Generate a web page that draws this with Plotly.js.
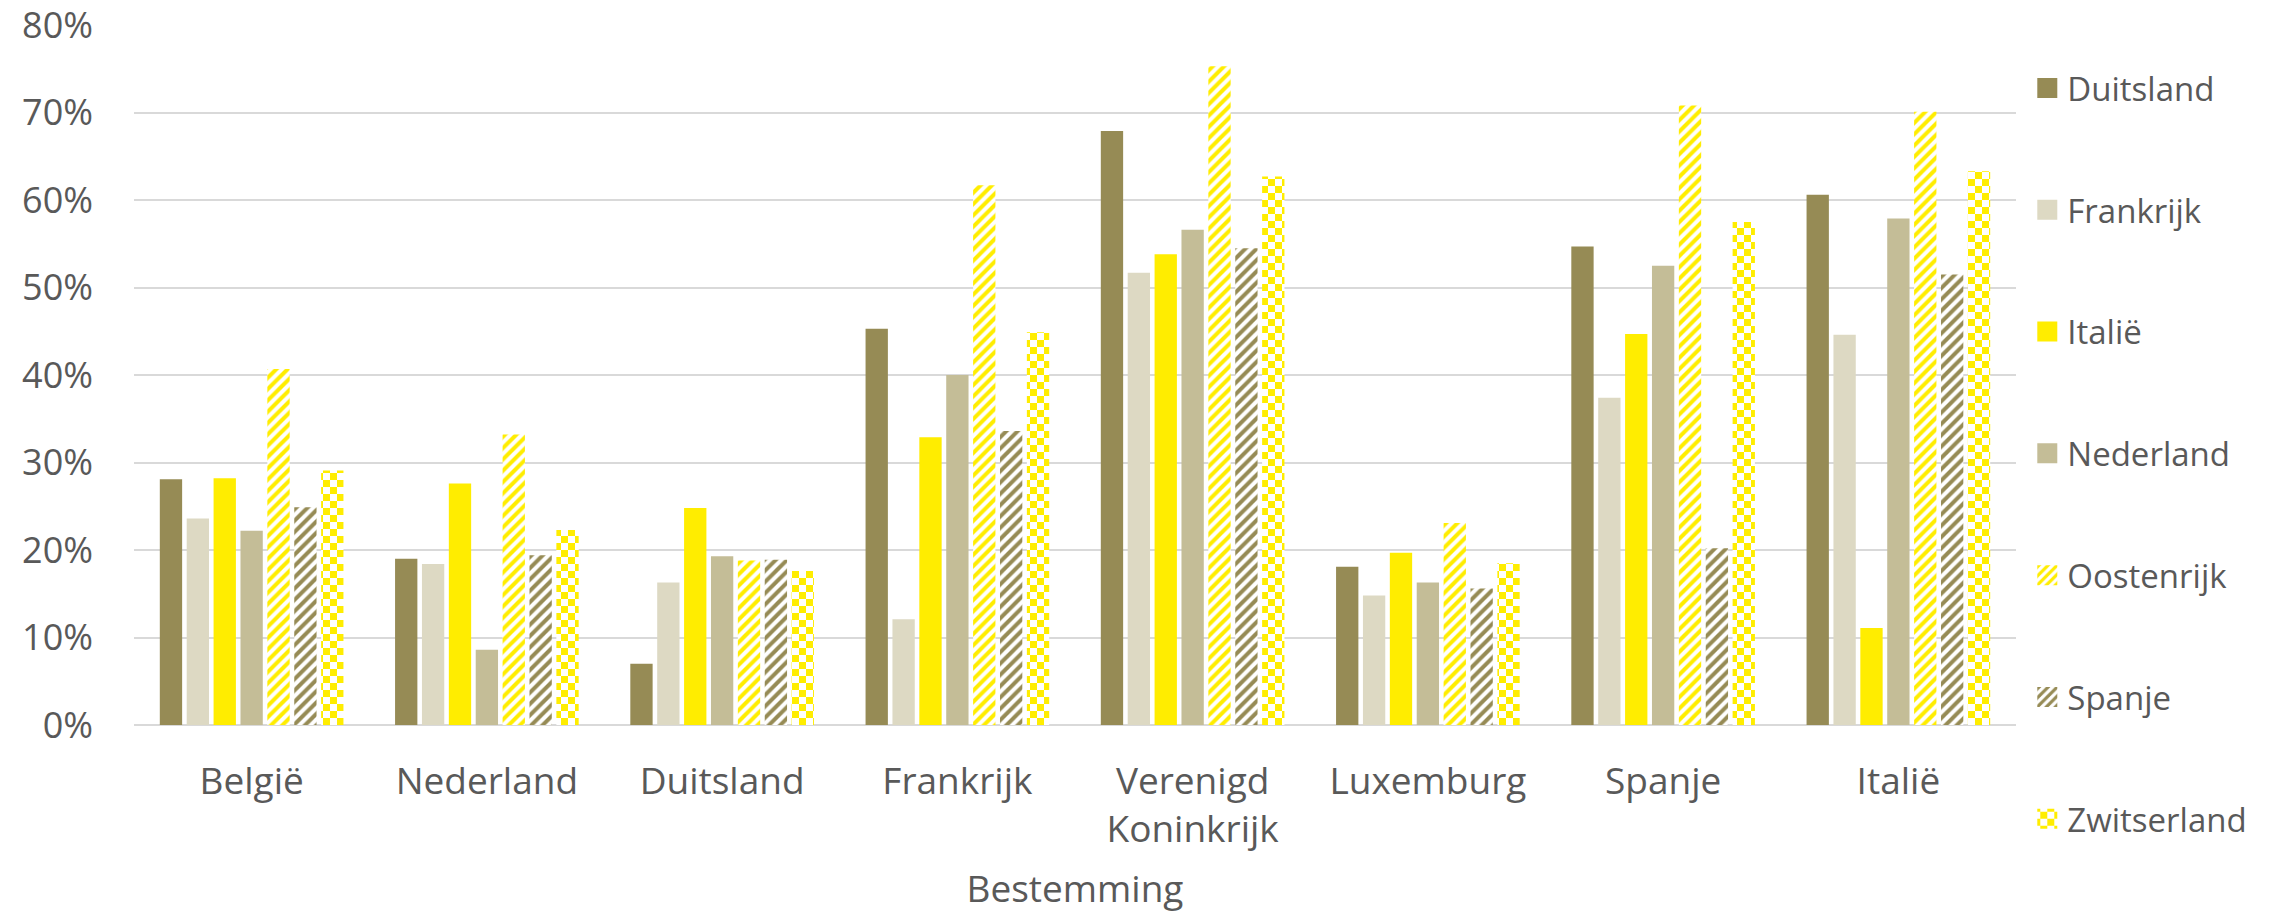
<!DOCTYPE html>
<html>
<head>
<meta charset="utf-8">
<script src="https://cdn.plot.ly/plotly-3.0.1.min.js"></script>
<style>
  html, body { margin: 0; padding: 0; background: #ffffff; }
  #chart { width: 2278px; height: 914px; }
</style>
</head>
<body>
<div id="chart"></div>
<script>
// Destinations (x-axis categories)
const categories = ["België", "Nederland", "Duitsland", "Frankrijk", "Verenigd<br>Koninkrijk", "Luxemburg", "Spanje", "Italië"];

// Series (origin countries), values in %
const duitsland   = [28.1, 19.0,  7.0, 45.3, 67.9, 18.1, 54.7, 60.6];
const frankrijk   = [23.6, 18.4, 16.3, 12.1, 51.7, 14.8, 37.4, 44.6];
const italie      = [28.2, 27.6, 24.8, 32.9, 53.8, 19.7, 44.7, 11.1];
const nederland   = [22.2,  8.6, 19.3, 40.0, 56.6, 16.3, 52.5, 57.9];
const oostenrijk  = [40.7, 33.2, 18.8, 61.7, 75.3, 23.1, 70.8, 70.1];
const spanje      = [24.9, 19.4, 18.9, 33.6, 54.5, 15.6, 20.2, 51.5];
const zwitserland = [29.1, 22.3, 17.6, 44.9, 62.7, 18.5, 57.5, 63.3];

const seriesNames = ["Duitsland", "Frankrijk", "Italië", "Nederland", "Oostenrijk", "Spanje", "Zwitserland"];
const seriesValues = [duitsland, frankrijk, italie, nederland, oostenrijk, spanje, zwitserland];

const OLIVE = "#968B55", BEIGE = "#DDD9C3", YELLOW = "#FFED00", TAUPE = "#C4BD97";
const styles = [
  { color: OLIVE },
  { color: BEIGE },
  { color: YELLOW },
  { color: TAUPE },
  { color: YELLOW, pattern: { shape: "/", fgcolor: YELLOW, bgcolor: "#ffffff", size: 8, solidity: 0.5, fillmode: "replace" } },
  { color: OLIVE,  pattern: { shape: "/", fgcolor: OLIVE,  bgcolor: "#ffffff", size: 8, solidity: 0.5, fillmode: "replace" } },
  { color: YELLOW, pattern: { shape: "+", fgcolor: YELLOW, bgcolor: "#ffffff", size: 14, solidity: 0.5, fillmode: "replace" } }
];

const traces = seriesNames.map((name, i) => ({
  type: "bar",
  name: name,
  uid: "ser" + i + "x",
  x: categories,
  y: seriesValues[i],
  legendgroup: "g" + i,
  legend: i === 6 ? "legend2" : "legend",
  marker: Object.assign({ line: { width: 0 } }, styles[i]),
  hoverinfo: "x+y+name"
}));

const TEXT = "#595959";
const FONT = "Open Sans, Noto Sans, sans-serif";

const legendBase = {
  x: 1.006, xanchor: "left",
  yanchor: "top",
  traceorder: "grouped",
  tracegroupgap: 75.9,
  font: { family: FONT, color: TEXT, size: 33 },
  bgcolor: "rgba(0,0,0,0)"
};

const layout = {
  width: 2278,
  height: 914,
  margin: { l: 134, r: 262, t: 25, b: 189 },
  paper_bgcolor: "#ffffff",
  plot_bgcolor: "#ffffff",
  font: { family: FONT, color: TEXT, size: 34 },
  barmode: "group",
  bargap: 0.2,
  bargroupgap: 0.17,
  showlegend: true,
  legend: Object.assign({}, legendBase, { y: 0.95 }),
  legend2: Object.assign({}, legendBase, { y: 0.95 - 6 * 121.8 / 700 }),
  xaxis: {
    type: "category",
    tickfont: { family: FONT, color: TEXT, size: 37 },
    showgrid: false,
    showline: false,
    zeroline: false,
    ticks: "",
    ticklabelstandoff: 31,
    title: { text: "Bestemming", font: { family: FONT, color: TEXT, size: 37 }, standoff: 24 }
  },
  yaxis: {
    range: [0, 80],
    dtick: 10,
    tick0: 0,
    ticksuffix: "%",
    tickfont: { family: FONT, color: TEXT, size: 36 },
    ticklabeloverflow: "allow",
    showgrid: true,
    gridcolor: "#D9D9D9",
    gridwidth: 2,
    zeroline: true,
    zerolinecolor: "#D9D9D9",
    zerolinewidth: 2,
    showline: false,
    ticks: "",
    ticklabelstandoff: 40
  }
};

const NS = "http://www.w3.org/2000/svg";
const BIG = "M10,10H-10V-10H10Z";

function fillChecker(pat) {
  // turn Plotly's pattern for the Zwitserland series into a yellow/white checkerboard
  if (pat.getAttribute("data-checker") === "1") return;
  while (pat.firstChild) pat.removeChild(pat.firstChild);
  pat.setAttribute("patternUnits", "userSpaceOnUse");
  pat.setAttribute("width", "14");
  pat.setAttribute("height", "14");
  pat.removeAttribute("patternTransform");
  const mk = (x, y, w, h, f) => {
    const r = document.createElementNS(NS, "rect");
    r.setAttribute("x", x); r.setAttribute("y", y);
    r.setAttribute("width", w); r.setAttribute("height", h);
    r.setAttribute("fill", f);
    return r;
  };
  pat.appendChild(mk(0, 0, 14, 14, "#ffffff"));
  pat.appendChild(mk(0, 0, 7, 7, YELLOW));
  pat.appendChild(mk(7, 7, 7, 7, YELLOW));
  pat.setAttribute("data-checker", "1");
}

function decorate() {
  const gd = document.getElementById("chart");
  gd.querySelectorAll('pattern[id*="ser6x"]').forEach(fillChecker);
  gd.querySelectorAll(".legendpoints path").forEach(p => {
    if (p.getAttribute("d") !== BIG) p.setAttribute("d", BIG);
  });
}

let scheduled = false;
const obs = new MutationObserver(() => {
  if (scheduled) return;
  scheduled = true;
  Promise.resolve().then(() => { scheduled = false; decorate(); });
});
obs.observe(document.getElementById("chart"), { childList: true, subtree: true, attributes: true, attributeFilter: ["d"] });

Plotly.newPlot("chart", traces, layout, { displayModeBar: false, staticPlot: true }).then(function () {
  decorate();
  setTimeout(decorate, 30);
  setTimeout(decorate, 200);
});
</script>
</body>
</html>
